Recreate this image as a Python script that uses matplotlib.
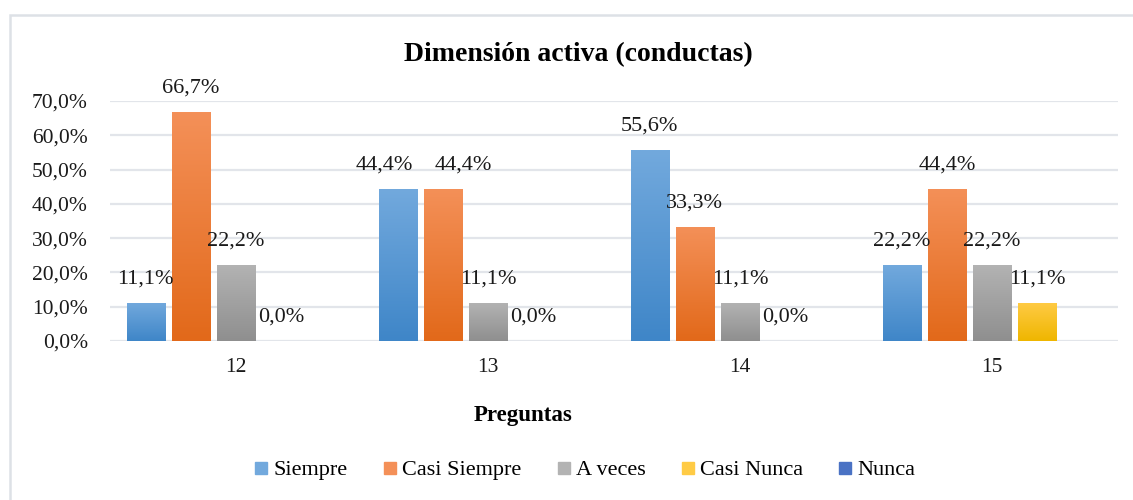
import numpy as np
import matplotlib
matplotlib.use("Agg")
import matplotlib.pyplot as plt
from matplotlib.colors import LinearSegmentedColormap
from matplotlib.patches import Rectangle
from matplotlib.lines import Line2D

# data
preguntas = ["12", "13", "14", "15"]
series = ["Siempre", "Casi Siempre", "A veces", "Casi Nunca", "Nunca"]
siempre = [11.1, 44.4, 55.6, 22.2]
casi_siempre = [66.7, 44.4, 33.3, 44.4]
a_veces = [22.2, 11.1, 11.1, 22.2]
casi_nunca = [0.0, 0.0, 0.0, 11.1]
nunca = [np.nan, np.nan, np.nan, np.nan]
valores = [siempre, casi_siempre, a_veces, casi_nunca, nunca]

# (top colour, bottom colour) for the gradient fill
colores = [("#72a9dd", "#3f86c8"),
           ("#f49058", "#e2691a"),
           ("#b3b3b3", "#8f8f8f"),
           ("#ffcb45", "#efb600"),
           ("#4a72c4", "#2f5bb0")]

# labels that Excel nudged sideways to avoid overlap (serie, pregunta) -> points
nudge = {(0, 1): -10, (1, 1): 15}

plt.rcParams["font.family"] = ["Liberation Serif", "DejaVu Serif"]

fig = plt.figure(figsize=(11.33, 5), dpi=100)
ax = fig.add_axes([110 / 1133, 1 - 341 / 500, 1008 / 1133, 240 / 500])

# outer chart border
fig.patches.append(Rectangle((10 / 1133, -0.1), 1.2, 1 - 15 / 500 + 0.1,
                             transform=fig.transFigure, fill=False,
                             edgecolor="#dde1e6", linewidth=1.8))

x = np.arange(len(preguntas))
step = 0.179
width = 0.151

for i, (nombre, vals) in enumerate(zip(series, valores)):
    pos = x + (i - 2) * step
    for j, (xp, v) in enumerate(zip(pos, vals)):
        if np.isnan(v):
            continue
        if v > 0:
            cmap = LinearSegmentedColormap.from_list("g", [colores[i][1], colores[i][0]])
            rect = Rectangle((xp - width / 2, 0), width, v, facecolor="none",
                             edgecolor="none")
            ax.add_patch(rect)
            grad = np.linspace(0, 1, 100).reshape(-1, 1)
            im = ax.imshow(grad, cmap=cmap, origin="lower", aspect="auto",
                           extent=[xp - width / 2, xp + width / 2, 0, v], zorder=2)
            im.set_clip_path(rect)
        ax.annotate(f"{v:.1f}%".replace(".", ","), (xp, v),
                    xytext=(nudge.get((i, j), 0), 10.5),
                    textcoords="offset points", ha="center", va="bottom",
                    fontsize=16, color="#1a1a1a", zorder=3)

ax.set_xlim(-0.5, 3.5)
ax.set_ylim(0, 70)
ax.set_yticks(np.arange(0, 71, 10))
ax.set_yticklabels([f"{t:.1f}%".replace(".", ",") for t in np.arange(0, 71, 10)])
ax.set_xticks(x)
ax.set_xticklabels(preguntas)
ax.tick_params(axis="both", length=0, labelsize=15.5, colors="#1a1a1a")
ax.tick_params(axis="x", pad=12)
ax.tick_params(axis="y", pad=16)
ax.grid(axis="y", color="#e2e5ea", linewidth=1.6, zorder=0)
ax.set_axisbelow(True)
for s in ax.spines.values():
    s.set_visible(False)

fig.text(578 / 1133, 1 - 55 / 500, "Dimensión activa (conductas)", ha="center",
         va="center", fontsize=20, fontweight="bold")
fig.text(523 / 1133, 1 - 415 / 500, "Preguntas", ha="center", va="center",
         fontsize=16.5, fontweight="bold")

handles = [Line2D([], [], marker="s", linestyle="none", markersize=8.5,
                  markerfacecolor=c[0], markeredgecolor=c[0]) for c in colores]
fig.legend(handles, series, loc="center", bbox_to_anchor=(583 / 1133, 1 - 470 / 500),
           ncol=5, frameon=False, fontsize=16, handletextpad=0.05,
           columnspacing=1.4, handlelength=1.0)

fig.savefig("out.png", dpi=100)
